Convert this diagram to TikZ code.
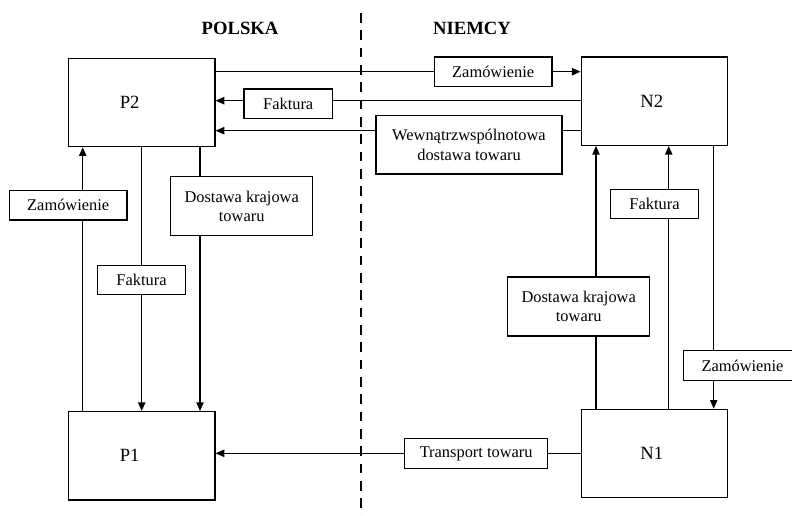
\documentclass[tikz,border=0pt]{standalone}
\usepackage{fontspec}
\setmainfont{Liberation Serif}
\usetikzlibrary{arrows.meta}
\begin{document}
\begin{tikzpicture}[x=0.75pt,y=-0.75pt,
  every node/.style={font=\fontsize{12.3}{14.3}\selectfont},
  mainbox/.style={draw, line width=0.9pt, minimum width=110pt, minimum height=66.3pt, inner sep=0pt},
  lbl/.style={draw, line width=0.9pt, align=center, inner sep=0pt, minimum height=22pt},
  conn/.style={line width=1pt},
  arr/.style={conn, -{Triangle[length=6.5pt,width=5.5pt]}},
  head/.style={font=\fontsize{14}{16}\selectfont\bfseries},
  big/.style={font=\fontsize{14}{16}\selectfont}]
\useasboundingbox (0,0) rectangle (792,516);

% headings
\node[head] (hpl) at (240,28.3) {POLSKA};
\node[head] (hde) at (472,28) {NIEMCY};

% border line
\coordinate (dtop) at (361,13);
\coordinate (dbot) at (361,516);
\draw[line width=1.8pt, dash pattern=on 7.3pt off 5.7pt] (dtop) -- (dbot);

% main boxes
\node[mainbox, label={[big, xshift=-9pt]center:P2}] (P2) at (141.65,102.5) {};
\node[mainbox, label={[big, xshift=-2pt]center:N2}] (N2) at (654.5,101.2) {};
\node[mainbox, label={[big, xshift=-9pt]center:P1}] (P1) at (141.65,455.8) {};
\node[mainbox, label={[big, xshift=-2pt]center:N1}] (N1) at (654.5,453.5) {};

% label boxes
\node[lbl, minimum width=88.3pt] (zamT) at (493.2,71.7) {Zamówienie};
\node[lbl, minimum width=66.3pt] (fakT) at (288.2,103.7) {Faktura};
\node[lbl, minimum width=139.5pt, minimum height=43.7pt] (wew) at (469,144.85) {Wewnątrzwspólnotowa\\dostawa towaru};
\node[lbl, minimum width=88.3pt] (zamL) at (68.2,205.3) {Zamówienie};
\node[lbl, minimum width=106.5pt, minimum height=44.25pt] (dosL) at (241.7,206.2) {Dostawa krajowa\\towaru};
\node[lbl, minimum width=66.3pt] (fakL) at (141.5,279.8) {Faktura};
\node[lbl, minimum width=66.3pt] (fakR) at (654.5,204) {Faktura};
\node[lbl, minimum width=106.5pt, minimum height=44.25pt] (dosR) at (578.7,306.5) {Dostawa krajowa\\towaru};
\node[lbl, minimum width=88.3pt] (zamR) at (742.5,365.5) {Zamówienie};
\node[lbl, minimum width=107.25pt] (trans) at (476.2,453.5) {Transport towaru};

% line levels
\coordinate (yZ) at (0,71.7);
\coordinate (yF) at (0,100.7);
\coordinate (yW) at (0,130.7);
\coordinate (yT) at (0,453.3);
\coordinate (xZL) at (82.7,0);
\coordinate (xFL) at (141.7,0);
\coordinate (xDL) at (200,0);
\coordinate (xDR) at (596,0);
\coordinate (xFR) at (668.7,0);
\coordinate (xZR) at (713.7,0);

% top connectors
\draw[conn] (P2.east |- yZ) -- (zamT.west |- yZ);
\draw[arr] (zamT.east |- yZ) -- (N2.west |- yZ);
\draw[conn] (N2.west |- yF) -- (fakT.east |- yF);
\draw[arr] (fakT.west |- yF) -- (P2.east |- yF);
\draw[conn] (N2.west |- yW) -- (wew.east |- yW);
\draw[arr] (wew.west |- yW) -- (P2.east |- yW);

% left verticals
\draw[conn] (P1.north -| xZL) -- (zamL.south -| xZL);
\draw[arr] (zamL.north -| xZL) -- (P2.south -| xZL);
\draw[conn] (P2.south -| xFL) -- (fakL.north -| xFL);
\draw[arr] (fakL.south -| xFL) -- (P1.north -| xFL);
\draw[conn] (P2.south -| xDL) -- (dosL.north -| xDL);
\draw[arr] (dosL.south -| xDL) -- (P1.north -| xDL);

% right verticals
\draw[conn] (N1.north -| xDR) -- (dosR.south -| xDR);
\draw[arr] (dosR.north -| xDR) -- (N2.south -| xDR);
\draw[conn] (N1.north -| xFR) -- (fakR.south -| xFR);
\draw[arr] (fakR.north -| xFR) -- (N2.south -| xFR);
\draw[conn] (N2.south -| xZR) -- (zamR.north -| xZR);
\draw[arr] (zamR.south -| xZR) -- (N1.north -| xZR);

% bottom
\draw[conn] (N1.west |- yT) -- (trans.east |- yT);
\draw[arr] (trans.west |- yT) -- (P1.east |- yT);
\end{tikzpicture}
\end{document}
